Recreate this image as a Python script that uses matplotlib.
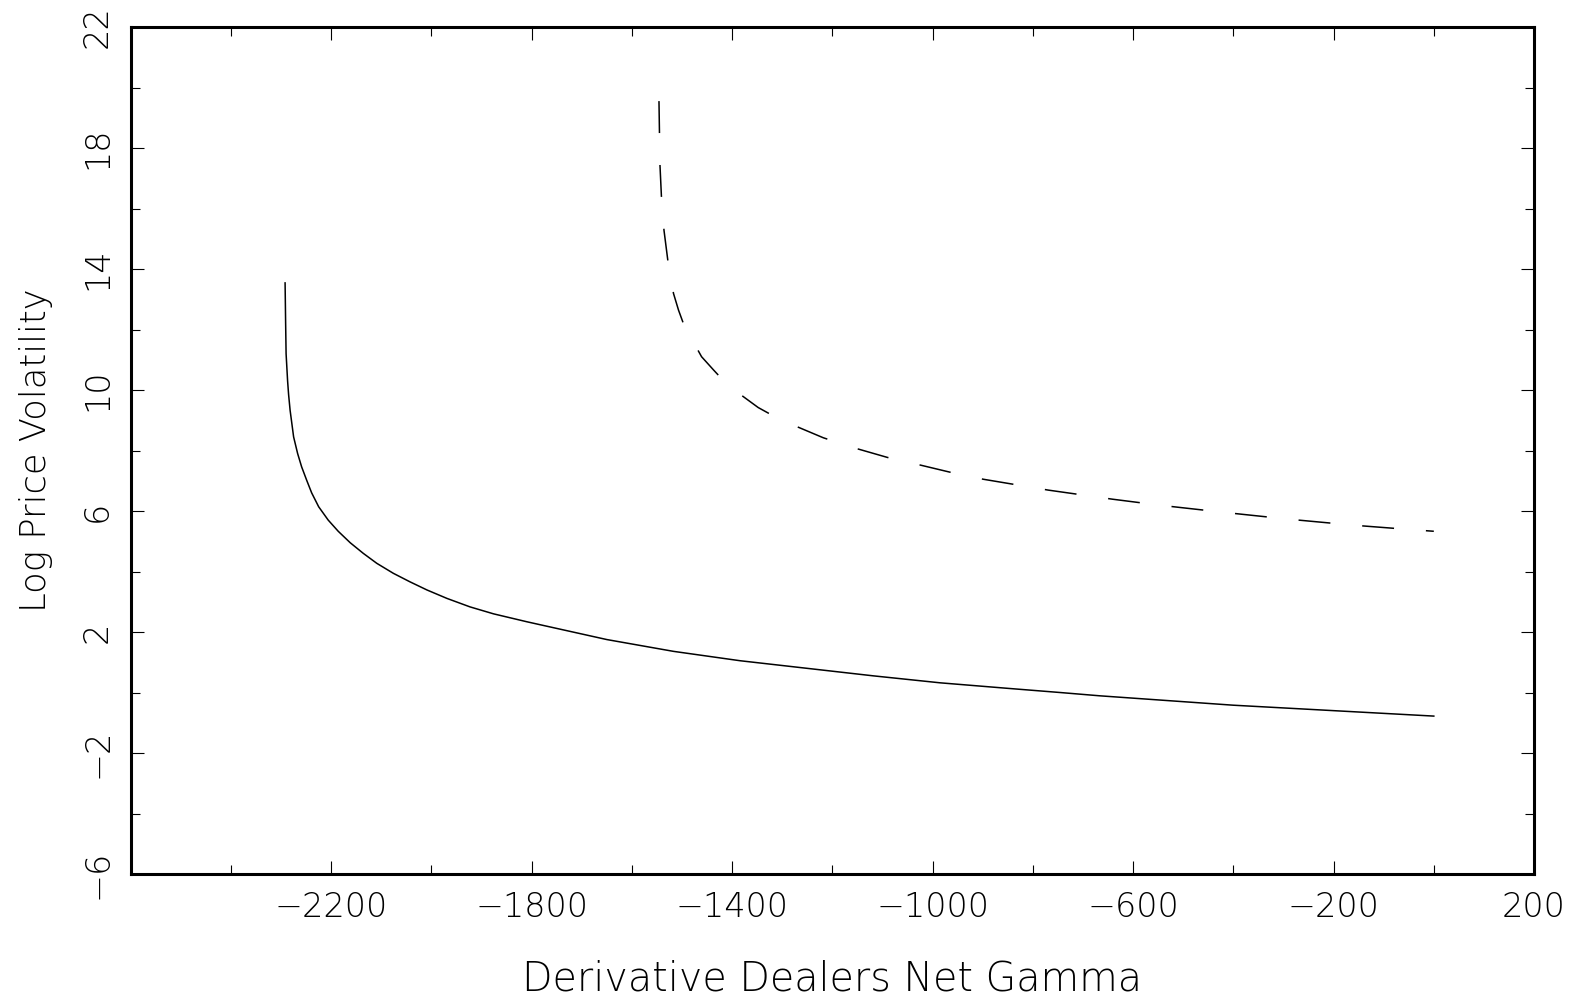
import numpy as np
import matplotlib.pyplot as plt
from matplotlib.ticker import MultipleLocator

# solid curve
gamma_solid = [-2292, -2291, -2290, -2287, -2285, -2282, -2275, -2267, -2259,
               -2249, -2239, -2225, -2206, -2186, -2162, -2136, -2109, -2076,
               -2043, -2009, -1969, -1923, -1876, -1810, -1783, -1650, -1517,
               -1384, -1251, -1118, -985, -852, -746, -666, -400, -200, 0]
vol_solid = [13.54, 12.3, 11.2, 10.3, 9.85, 9.33, 8.45, 7.90, 7.46,
             7.02, 6.60, 6.14, 5.70, 5.33, 4.95, 4.60, 4.27, 3.94,
             3.66, 3.39, 3.11, 2.83, 2.60, 2.34, 2.24, 1.75, 1.36,
             1.05, 0.80, 0.55, 0.32, 0.14, 0.0, -0.11, -0.42, -0.60, -0.78]

# dashed curve
gamma_dash = [-1546, -1545, -1544, -1541, -1536, -1528, -1517, -1507, -1496,
              -1461, -1437, -1409, -1348, -1314, -1281, -1218, -1153, -1090,
              -1025, -962, -899, -769, -641, -546, -416, -290, -160, -34, 0]
vol_dash = [19.55, 18.48, 17.43, 16.36, 15.28, 14.24, 13.19, 12.64, 12.14,
            11.10, 10.66, 10.16, 9.42, 9.11, 8.86, 8.42, 8.07, 7.77,
            7.52, 7.27, 7.05, 6.69, 6.39, 6.19, 5.95, 5.73, 5.53, 5.37, 5.33]

xticks = [-2200, -1800, -1400, -1000, -600, -200, 200]
yticks = [-6, -2, 2, 6, 10, 14, 18, 22]

plt.rcParams['font.family'] = ['DejaVu Sans']
plt.rcParams['lines.scale_dashes'] = False

fig = plt.figure(figsize=(15.75, 10), dpi=100)
ax = fig.add_axes([0.083, 0.126, 0.891, 0.847])

ax.plot(gamma_solid, vol_solid, color='black', lw=1.1)
ax.plot(gamma_dash, vol_dash, color='black', lw=1.1, linestyle=(0, (23, 23)))

ax.set_xlim(-2600, 200)
ax.set_ylim(-6, 22)
ax.set_xticks(xticks)
ax.set_yticks(yticks)
ax.xaxis.set_minor_locator(MultipleLocator(200))
ax.yaxis.set_minor_locator(MultipleLocator(2))

ax.tick_params(which='both', direction='in', top=True, right=True, width=0.8,
               labelsize=24, colors='black')
ax.tick_params(which='major', length=9.5, pad=12)
ax.tick_params(which='minor', length=6.5)
for lab in ax.get_xticklabels() + ax.get_yticklabels():
    lab.set_fontweight('light')
plt.setp(ax.get_yticklabels(), rotation=90, va='center')

for sp in ax.spines.values():
    sp.set_linewidth(2.2)

ax.set_xlabel('Derivative Dealers Net Gamma', fontsize=28.5, fontweight='light', labelpad=26)
ax.set_ylabel('Log Price Volatility', fontsize=25.5, fontweight='light', labelpad=20)

plt.savefig('out.png', dpi=100)
